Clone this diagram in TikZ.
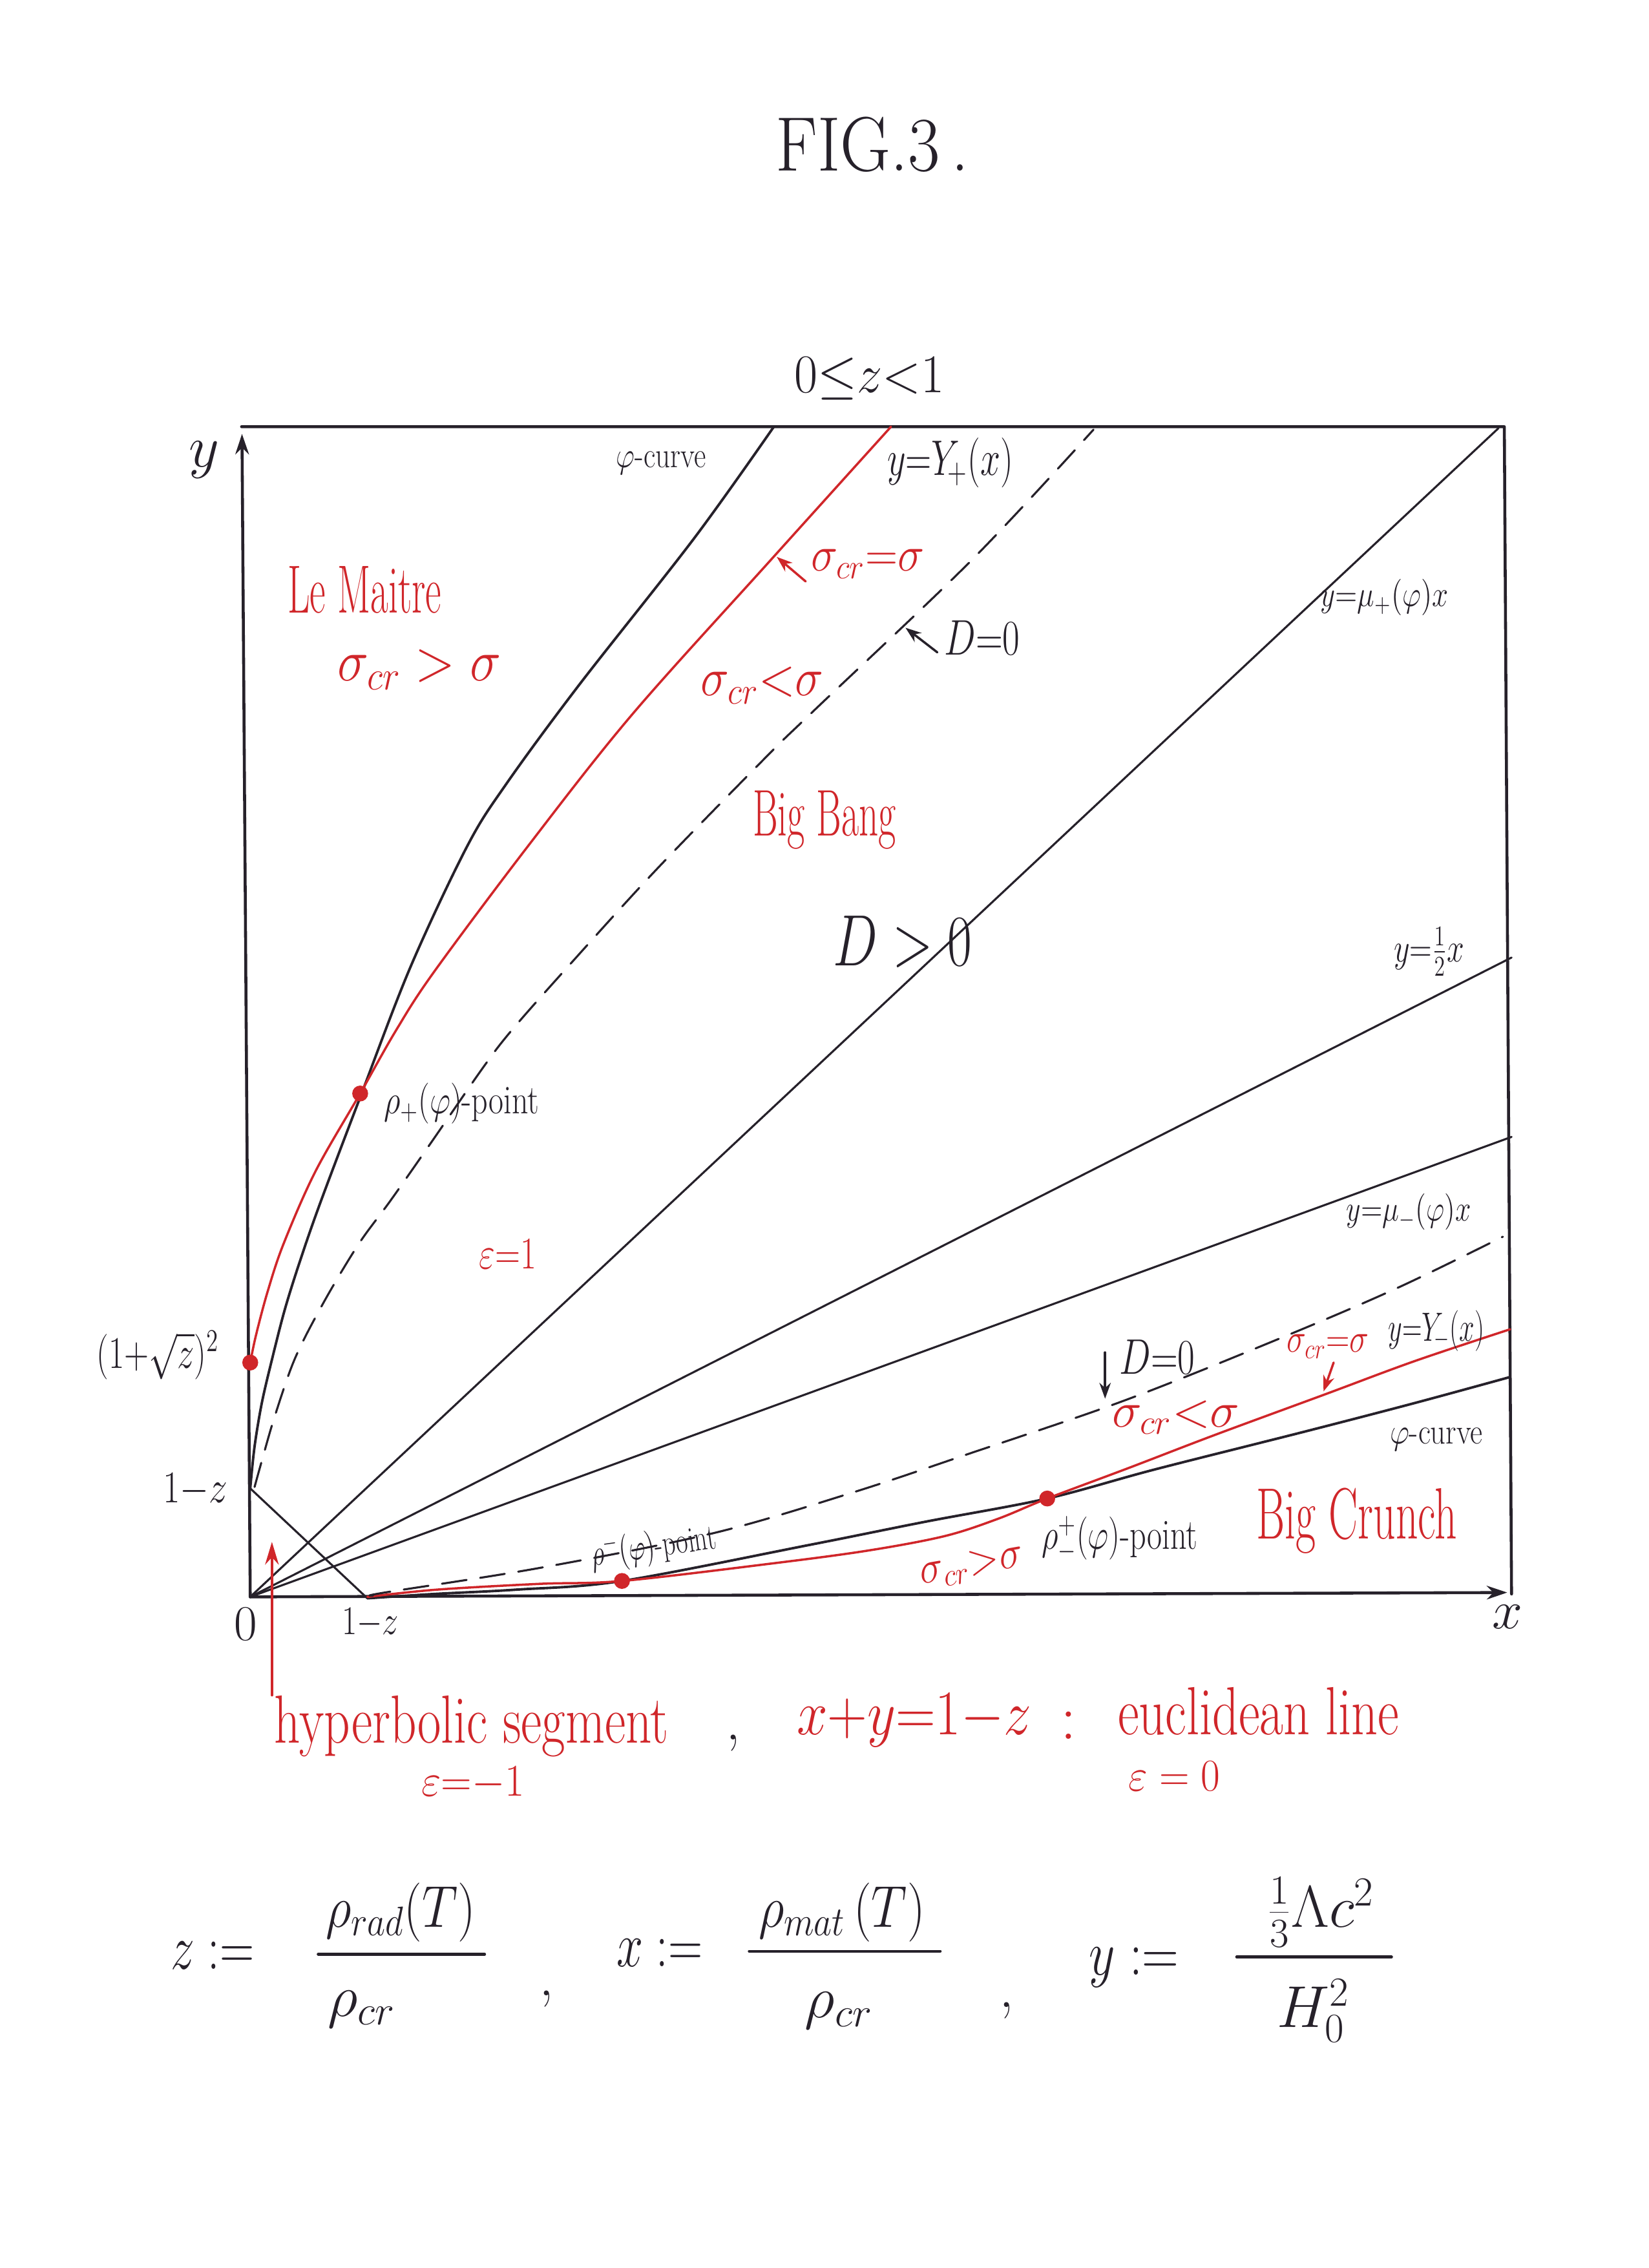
\RequirePackage{fix-cm}
\documentclass[tikz,border=0pt]{standalone}
\usetikzlibrary{arrows.meta}
\definecolor{ink}{RGB}{38,33,42}
\definecolor{hred}{RGB}{208,38,42}
\newcommand\hsq[2]{\scalebox{#1}[1]{#2}}
\newcommand\fs[1]{\fontsize{#1}{#1}\selectfont}
\begin{document}
\begin{tikzpicture}[x=0.022386cm, y=-0.022386cm, line cap=round, line join=round,
  lab/.style={text=ink, inner sep=0pt},
  rlab/.style={text=hred, inner sep=0pt},
  frame/.style={draw=ink, line width=1.3pt},
  curve/.style={draw=ink, line width=1.1pt},
  rcurve/.style={draw=hred, line width=1pt},
  ray/.style={draw=ink, line width=0.9pt},
  dcurve/.style={draw=ink, line width=0.9pt, dash pattern=on 11pt off 6pt},
  karrow/.style={draw=ink, line width=1pt, -{Stealth[length=7pt,width=5pt]}},
  rarrow/.style={draw=hred, line width=1pt, -{Stealth[length=7pt,width=5pt]}}]
\useasboundingbox (0,0) rectangle (1140,1568);

% key points
\coordinate (O) at (173,1104);
\coordinate (TL) at (167,295);
\coordinate (TR) at (1040,295);
\coordinate (BR) at (1045,1102);
\coordinate (Ytip) at (167.3,300);
\coordinate (Xtip) at (1042,1101);
\coordinate (Ya) at (173,1029);
\coordinate (Xa) at (254,1105);
\coordinate (Q) at (173,942);
\coordinate (Pp) at (249,756);
\coordinate (Pm) at (430,1093);
\coordinate (Ppm) at (724,1036);
\coordinate (Emu) at (1036,296);
\coordinate (Ehalf) at (1045,662);
\coordinate (Emum) at (1045,786);

% frame and axes
\draw[frame,-{Stealth[length=9pt,width=6pt]}] (O) -- (Ytip);
\draw[frame] (TL) -- (TR) -- (BR);
\draw[frame,-{Stealth[length=9pt,width=6pt]}] (O) -- (Xtip);

% rays and euclidean line
\draw[ray] (O) -- (Emu);
\draw[ray] (O) -- (Ehalf);
\draw[ray] (O) -- (Emum);
\draw[ray] (Ya) -- (Xa);

% upper curves
\draw[curve] plot[smooth, tension=0.55] coordinates {(173,1029) (176,1000) (181,970) (188,940) (197,905) (208,870) (222,830) (250,756) (284,668) (323,585) (350,542) (400,474) (480,372) (535,295)};
\draw[rcurve] plot[smooth, tension=0.55] coordinates {(173,942) (177,923) (185,893) (196,860) (218,810) (249,756) (274,712) (300,672) (365,585) (437,494) (533,387) (616,295)};
\draw[dcurve] plot[smooth, tension=0.55] coordinates {(176,1028) (181,1010) (190,979) (204,939) (224,900) (248,860) (270,830) (298,790) (334,738) (354,712) (392,669) (453,602) (530,523) (563,491) (672,387) (756,297)};

% lower curves
\draw[curve] plot[smooth, tension=0.55] coordinates {(254,1105) (300,1102) (357,1099) (430,1093) (560,1068) (640,1052) (724,1036) (798,1016) (901,990) (978,970) (1044,952)};
\draw[rcurve] plot[smooth, tension=0.55] coordinates {(254,1104) (302,1099) (373,1095) (430,1093) (533,1081) (600,1072) (653,1062) (690,1050) (724,1036) (780,1015) (840,992) (916,964) (978,941) (1044,919)};
\draw[dcurve] plot[smooth, tension=0.55] coordinates {(258,1103) (266,1101) (373,1084) (493,1060) (589,1032) (670,1005) (778,968) (888,924) (967,890) (1039,855)};

% red points
\fill[hred] (Q) circle[radius=3.5pt];
\fill[hred] (Pp) circle[radius=3.5pt];
\fill[hred] (Pm) circle[radius=3.5pt];
\fill[hred] (Ppm) circle[radius=3.5pt];

% titles
\node[lab,font=\fs{34}] (title) at (603,100) {\hsq{0.9}{FIG.3\,.}};
\node[lab,font=\fs{24}] (zrange) at (601,262) {\hsq{0.93}{$0{\le}z{<}1$}};

% axis labels
\node[lab,font=\fs{26}] (ylab) at (141,318) {$y$};
\node[lab,font=\fs{24}] (xlab) at (1042,1118) {$x$};
\node[lab,font=\fs{22}] (zero) at (170,1123) {$0$};
\node[lab,font=\fs{18}] (omzx) at (256,1122) {\hsq{0.8}{$1{-}z$}};
\node[lab,font=\fs{20}] (omzy) at (135,1030) {\hsq{0.82}{$1{-}z$}};
\node[lab,font=\fs{20}] (qlab) at (109,937) {\hsq{0.75}{$(1{+}\sqrt{z})^2$}};

% upper labels
\node[lab,font=\fs{16}] (phiu) at (457,320) {\hsq{0.8}{$\varphi$-curve}};
\node[lab,font=\fs{22}] (Yp) at (657,320) {\hsq{0.72}{$y{=}Y_{\!+}(x)$}};
\node[rlab,font=\fs{22}] (sequ) at (600,390) {\hsq{0.9}{$\sigma_{cr}{=}\sigma$}};
\coordinate (a1s) at (557,402); \coordinate (a1t) at (537,385);
\draw[rarrow] (a1s) -- (a1t);
\node[lab,font=\fs{22}] (D0u) at (679,441) {\hsq{0.75}{$D{=}0$}};
\coordinate (a2s) at (648,451); \coordinate (a2t) at (626,434);
\draw[karrow] (a2s) -- (a2t);
\node[lab,font=\fs{16}] (mup) at (957,413) {\hsq{0.8}{$y{=}\mu_{+}(\varphi)x$}};
\node[rlab,font=\fs{30}] (lem) at (252,408) {\hsq{0.57}{Le Maitre}};
\node[rlab,font=\fs{26}] (sgt) at (290,463) {\hsq{0.89}{$\sigma_{cr}>\sigma$}};
\node[rlab,font=\fs{24}] (sltu) at (527,474) {\hsq{0.88}{$\sigma_{cr}{<}\sigma$}};
\node[rlab,font=\fs{29},anchor=base] (bb) at (570,578) {\hsq{0.58}{Big Bang}};
\node[lab,font=\fs{32}] (Dpos) at (624,651) {\hsq{0.73}{$D>0$}};
\node[lab,font=\fs{18}] (half) at (988,658) {\hsq{0.76}{$y{=}\frac{1}{2}x$}};
\node[lab,font=\fs{18},anchor=base] (rhop) at (319,770) {\hsq{0.79}{$\rho_{+}(\varphi)$-point}};
\node[rlab,font=\fs{20}] (eps1) at (351,867) {\hsq{0.77}{$\varepsilon{=}1$}};
\node[lab,font=\fs{16}] (mum) at (974,838) {\hsq{0.78}{$y{=}\mu_{-}(\varphi)x$}};

% lower labels
\node[lab,font=\fs{22}] (D0l) at (800,938) {\hsq{0.75}{$D{=}0$}};
\coordinate (a3s) at (764,935); \coordinate (a3t) at (764,967);
\draw[karrow] (a3s) -- (a3t);
\node[rlab,font=\fs{18}] (seql) at (918,931) {\hsq{0.8}{$\sigma_{cr}{=}\sigma$}};
\coordinate (a4s) at (922,942); \coordinate (a4t) at (915,962);
\draw[rarrow] (a4s) -- (a4t);
\node[lab,font=\fs{18}] (Ym) at (993,920) {\hsq{0.67}{$y{=}Y_{\!-}(x)$}};
\node[rlab,font=\fs{22}] (sltl) at (813,980) {$\sigma_{cr}{<}\sigma$};
\node[lab,font=\fs{16}] (phil) at (993,995) {\hsq{0.83}{$\varphi$-curve}};
\node[rlab,font=\fs{32},anchor=base] (bc) at (938,1064) {\hsq{0.6}{Big Crunch}};
\node[lab,font=\fs{19},anchor=base] (rhopm) at (774,1071) {\hsq{0.75}{$\rho^{+}_{-}(\varphi)$-point}};
\node[lab,font=\fs{16},rotate=8] (rhom) at (452,1070) {\hsq{0.71}{$\rho^{-}(\varphi)$-point}};
\node[rlab,font=\fs{20},rotate=10] (sgtl) at (672,1083) {\hsq{0.9}{$\sigma_{cr}{>}\sigma$}};

% hyperbolic segment pointer and captions
\coordinate (hs) at (188,1172); \coordinate (ht) at (188,1066);
\draw[hred, line width=1.1pt, -{Stealth[length=10pt,width=6pt]}] (hs) -- (ht);
\node[rlab,font=\fs{30},anchor=base] (hyp) at (326,1205) {\hsq{0.75}{hyperbolic segment}};
\node[rlab,font=\fs{20}] (epsm) at (327,1233) {\hsq{0.94}{$\varepsilon{=}{-}1$}};
\node[lab,font=\fs{26}] (c1) at (507,1205) {,};
\node[rlab,font=\fs{28},anchor=base] (eucl) at (632,1199) {\hsq{0.87}{$x{+}y{=}1{-}z$}};
\node[rlab,font=\fs{28}] (colon) at (739,1193) {:};
\node[rlab,font=\fs{30},anchor=base] (eucw) at (870,1199) {\hsq{0.76}{euclidean line}};
\node[rlab,font=\fs{20}] (eps0) at (812,1228) {\hsq{0.92}{$\varepsilon=0$}};

% definitions
\node[lab,font=\fs{28}] (zdef) at (147,1352) {\hsq{0.75}{$z:=$}};
\node[lab,font=\fs{26}] (n1) at (277,1322) {\hsq{0.85}{$\rho_{rad}(T)$}};
\coordinate (b1a) at (220,1351); \coordinate (b1b) at (335,1351);
\draw[frame] (b1a) -- (b1b);
\node[lab,font=\fs{26}] (d1) at (250,1389) {$\rho_{cr}$};
\node[lab,font=\fs{26}] (c2) at (378,1382) {,};
\node[lab,font=\fs{28}] (xdef) at (456,1350) {\hsq{0.75}{$x:=$}};
\node[lab,font=\fs{26}] (n2) at (582,1322) {\hsq{0.85}{$\rho_{mat}\,(T)$}};
\coordinate (b2a) at (518,1349); \coordinate (b2b) at (650,1349);
\draw[frame] (b2a) -- (b2b);
\node[lab,font=\fs{26}] (d2) at (580,1390) {$\rho_{cr}$};
\node[lab,font=\fs{26}] (c3) at (696,1390) {,};
\node[lab,font=\fs{28}] (ydef) at (784,1360) {\hsq{0.8}{$y:=$}};
\node[lab,font=\fs{26}] (n3) at (913,1322) {$\frac{1}{3}\Lambda c^2$};
\coordinate (b3a) at (855,1353); \coordinate (b3b) at (962,1353);
\draw[frame] (b3a) -- (b3b);
\node[lab,font=\fs{26}] (d3) at (908,1390) {$H_0^2$};
\end{tikzpicture}
\end{document}
